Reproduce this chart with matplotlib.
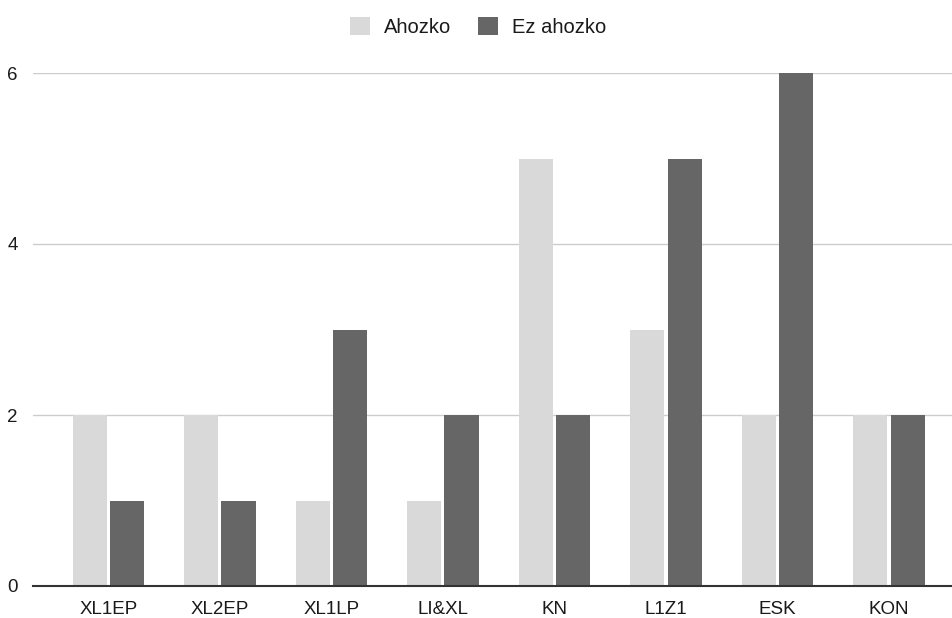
import numpy as np
import matplotlib.pyplot as plt

plt.rcParams['font.family'] = ['Liberation Sans', 'DejaVu Sans']

categories = ["XL1EP", "XL2EP", "XL1LP", "LI&XL", "KN", "L1Z1", "ESK", "KON"]
ahozko = [2, 2, 1, 1, 5, 3, 2, 2]
ez_ahozko = [1, 1, 3, 2, 2, 5, 6, 2]

fig = plt.figure(figsize=(9.53, 6.18), dpi=100)
ax = fig.add_axes([33 / 953, 1 - 586 / 618, 919 / 953, (586 - 73) / 618])

x = np.arange(len(categories))
w = 0.305
ax.bar(x - 0.166, ahozko, w, color="#d9d9d9", label="Ahozko", zorder=3)
ax.bar(x + 0.166, ez_ahozko, w, color="#666666", label="Ez ahozko", zorder=3)

ax.set_xlim(-0.677, 7.565)
ax.set_ylim(0, 6)
ax.set_yticks([0, 2, 4, 6])
ax.set_xticks(x)
ax.set_xticklabels(categories)
ax.tick_params(axis="both", length=0, labelsize=13.5, colors="#1a1a1a")
ax.tick_params(axis="x", pad=11)
ax.tick_params(axis="y", pad=11)

ax.grid(axis="y", color="#cccccc", linewidth=1, zorder=0)
for s in ["top", "right", "left"]:
    ax.spines[s].set_visible(False)
ax.spines["bottom"].set_color("#333333")
ax.spines["bottom"].set_linewidth(1.5)
ax.spines["bottom"].set_zorder(4)

fig.legend(loc="center", bbox_to_anchor=(478 / 953, 1 - 27 / 618), ncol=2,
           frameon=False, fontsize=14.5, handlelength=1.0, handleheight=1.0,
           handletextpad=0.7, columnspacing=1.3, labelcolor="#1a1a1a")

fig.savefig("out.png", dpi=100)
